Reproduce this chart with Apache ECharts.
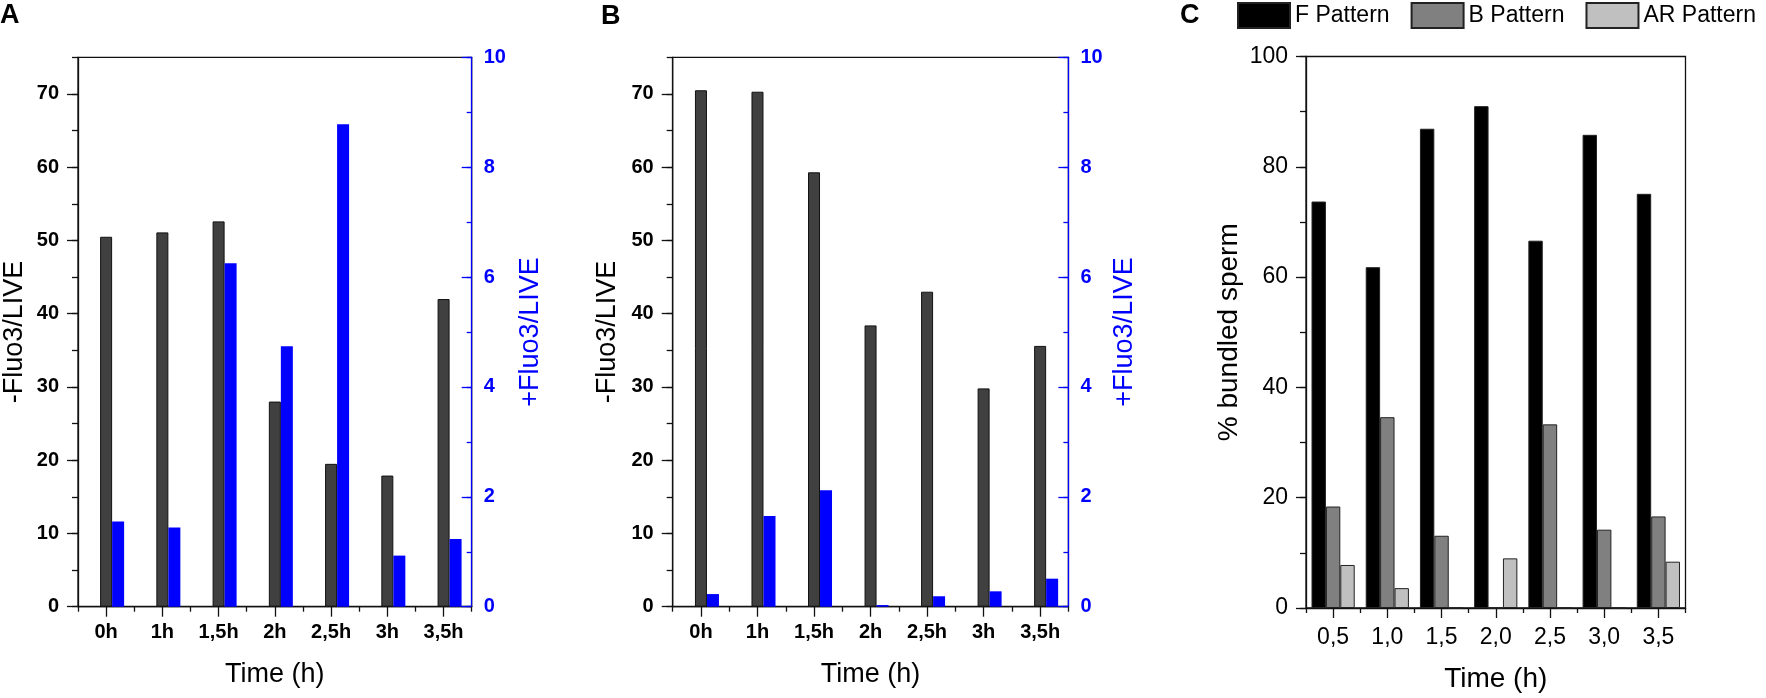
<!DOCTYPE html>
<html>
<head>
<meta charset="utf-8">
<script src="https://cdn.jsdelivr.net/npm/echarts@6/dist/echarts.min.js"></script>
<style>
html,body{margin:0;padding:0;background:#fff;}
#chart{width:1766px;height:698px;}
</style>
</head>
<body>
<div id="chart"></div>
<script>
// ---- data ----
const categoriesAB = ['0h', '1h', '1,5h', '2h', '2,5h', '3h', '3,5h'];
const categoriesC = ['0,5', '1,0', '1,5', '2,0', '2,5', '3,0', '3,5'];
const aNegFluo = [50.5, 51.1, 52.6, 28.0, 19.5, 17.9, 42.0];
const aPosFluo = [1.55, 1.44, 6.25, 4.74, 8.78, 0.93, 1.23];
const bNegFluo = [70.5, 70.3, 59.3, 38.4, 43.0, 29.8, 35.6];
const bPosFluo = [0.23, 1.65, 2.12, 0.03, 0.19, 0.28, 0.51];
const cFPattern = [73.7, 61.8, 86.9, 91.0, 66.6, 85.8, 75.1];
const cBPattern = [18.4, 34.6, 13.1, 0, 33.3, 14.2, 16.6];
const cARPattern = [7.8, 3.6, 0, 9.0, 0, 0, 8.4];
const leftTicksAB = [0, 10, 20, 30, 40, 50, 60, 70];
const seriesNamesC = ['F Pattern', 'B Pattern', 'AR Pattern'];

// ---- styles ----
const FONT = '"Liberation Sans", Arial, sans-serif';
const BLACK = '#000000';
const BLUE = '#0000ff';
const lineBlack = { color: '#111', width: 1.3 };
const lineBlue = { color: BLUE, width: 1.3 };

const chart = echarts.init(document.getElementById('chart'), null, { renderer: 'canvas' });

const grids = [
  { left: 76, top: 57.3, width: 395.7, height: 549.4 },
  { left: 672.7, top: 57.3, width: 395.7, height: 549.4 },
  { left: 1306, top: 56.5, width: 379.5, height: 551.8 }
].map(g => Object.assign({ show: true, borderColor: '#111', borderWidth: 1.3, backgroundColor: 'transparent' }, g));

const xAxes = [];
const yAxes = [];
const series = [];

function xPair(gi, cats, bold, fontSize, margin, nameGap, nameSize) {
  xAxes.push({
    type: 'category', gridIndex: gi, data: cats, position: 'bottom',
    axisLine: { show: true, onZero: false, lineStyle: lineBlack },
    axisTick: { show: true, alignWithLabel: true, length: 10, lineStyle: lineBlack },
    axisLabel: { margin: margin, fontSize: fontSize, fontWeight: bold ? 'bold' : 'normal', color: BLACK, fontFamily: FONT },
    splitLine: { show: false },
    name: 'Time (h)', nameLocation: 'middle', nameGap: nameGap,
    nameTextStyle: { fontSize: nameSize, color: BLACK, fontFamily: FONT }
  });
  xAxes.push({
    type: 'category', gridIndex: gi, data: cats, position: 'bottom',
    axisLine: { show: false },
    axisTick: { show: true, length: 5, lineStyle: lineBlack },
    axisLabel: { show: false },
    splitLine: { show: false }
  });
}

function panelAB(gi, neg, pos, leftNameGap, rightNameGap) {
  const xi = xAxes.length;
  xPair(gi, categoriesAB, true, 20, 16, 54, 27);
  const yi = yAxes.length;
  // left main
  yAxes.push({
    type: 'value', gridIndex: gi, position: 'left', min: 0, max: 75, interval: 10,
    axisLine: { show: true, lineStyle: lineBlack },
    axisTick: { show: true, length: 11, customValues: leftTicksAB, lineStyle: lineBlack },
    axisLabel: { customValues: leftTicksAB, margin: 19, fontSize: 20, fontWeight: 'bold', color: BLACK, fontFamily: FONT },
    splitLine: { show: false },
    name: '-Fluo3/LIVE', nameLocation: 'middle', nameGap: leftNameGap,
    nameTextStyle: { fontSize: 27, color: BLACK, fontFamily: FONT }
  });
  // left minor ticks
  yAxes.push({
    type: 'value', gridIndex: gi, position: 'left', min: 0, max: 75, interval: 5,
    axisLine: { show: false }, axisTick: { show: true, length: 6, lineStyle: lineBlack },
    axisLabel: { show: false }, splitLine: { show: false }
  });
  // right main
  yAxes.push({
    type: 'value', gridIndex: gi, position: 'right', min: 0, max: 10, interval: 2,
    axisLine: { show: true, lineStyle: lineBlue },
    axisTick: { show: true, inside: true, length: 10, lineStyle: lineBlue },
    axisLabel: { margin: 12, fontSize: 20, fontWeight: 'bold', color: BLUE, fontFamily: FONT },
    splitLine: { show: false },
    name: '+Fluo3/LIVE', nameLocation: 'middle', nameGap: rightNameGap,
    nameTextStyle: { fontSize: 27, color: BLUE, fontFamily: FONT }
  });
  // right minor ticks
  yAxes.push({
    type: 'value', gridIndex: gi, position: 'right', min: 0, max: 10, interval: 1,
    axisLine: { show: false }, axisTick: { show: true, inside: true, length: 5, lineStyle: lineBlue },
    axisLabel: { show: false }, splitLine: { show: false }
  });
  series.push({
    type: 'bar', name: 'spacer' + gi, xAxisIndex: xi, yAxisIndex: yi, data: [],
    barWidth: 12, barGap: '0%'
  });
  series.push({
    type: 'bar', name: '-Fluo3/LIVE ' + gi, xAxisIndex: xi, yAxisIndex: yi, data: neg,
    barWidth: 12, barGap: '0%',
    itemStyle: { color: '#404040', borderColor: '#111', borderWidth: 1 }
  });
  series.push({
    type: 'bar', name: '+Fluo3/LIVE ' + gi, xAxisIndex: xi, yAxisIndex: yi + 2, data: pos,
    barWidth: 12, barGap: '0%',
    itemStyle: { color: BLUE }
  });
}

panelAB(0, aNegFluo, aPosFluo, 50, 45);
panelAB(1, bNegFluo, bPosFluo, 52, 43);

// panel C
{
  const xi = xAxes.length;
  xPair(2, categoriesC, false, 23, 18, 57, 28);
  const yi = yAxes.length;
  yAxes.push({
    type: 'value', gridIndex: 2, position: 'left', min: 0, max: 100, interval: 20,
    axisLine: { show: true, lineStyle: lineBlack },
    axisTick: { show: true, length: 10, lineStyle: lineBlack },
    axisLabel: { margin: 18, fontSize: 23, color: BLACK, fontFamily: FONT },
    splitLine: { show: false },
    name: '% bundled sperm', nameLocation: 'middle', nameGap: 63,
    nameTextStyle: { fontSize: 28, color: BLACK, fontFamily: FONT }
  });
  yAxes.push({
    type: 'value', gridIndex: 2, position: 'left', min: 0, max: 100, interval: 10,
    axisLine: { show: false }, axisTick: { show: true, length: 6, lineStyle: lineBlack },
    axisLabel: { show: false }, splitLine: { show: false }
  });
  const cData = [cFPattern, cBPattern, cARPattern];
  const cColors = ['#000000', '#808080', '#c0c0c0'];
  seriesNamesC.forEach((n, i) => {
    series.push({
      type: 'bar', name: n, xAxisIndex: xi, yAxisIndex: yi, data: cData[i],
      barWidth: 14.4, barGap: '0%',
      itemStyle: { color: cColors[i], borderColor: '#222', borderWidth: 1 }
    });
  });
}

const panelLabel = (t, x, y) => ({
  type: 'text', left: x, top: y,
  style: { text: t, fontSize: 27, fontWeight: 'bold', fill: BLACK, fontFamily: FONT }
});

chart.setOption({
  animation: false,
  backgroundColor: '#ffffff',
  grid: grids,
  xAxis: xAxes,
  yAxis: yAxes,
  series: series,
  legend: {
    data: seriesNamesC, left: 1237, top: 2, itemWidth: 52, itemHeight: 25, itemGap: 21,
    padding: 0, orient: 'horizontal',
    icon: 'rect', selectedMode: false,
    textStyle: { fontSize: 23, color: BLACK, fontFamily: FONT }
  },
  graphic: [
    panelLabel('A', 0, 2),
    panelLabel('B', 601, 3),
    panelLabel('C', 1180, 2)
  ]
});
</script>
</body>
</html>
